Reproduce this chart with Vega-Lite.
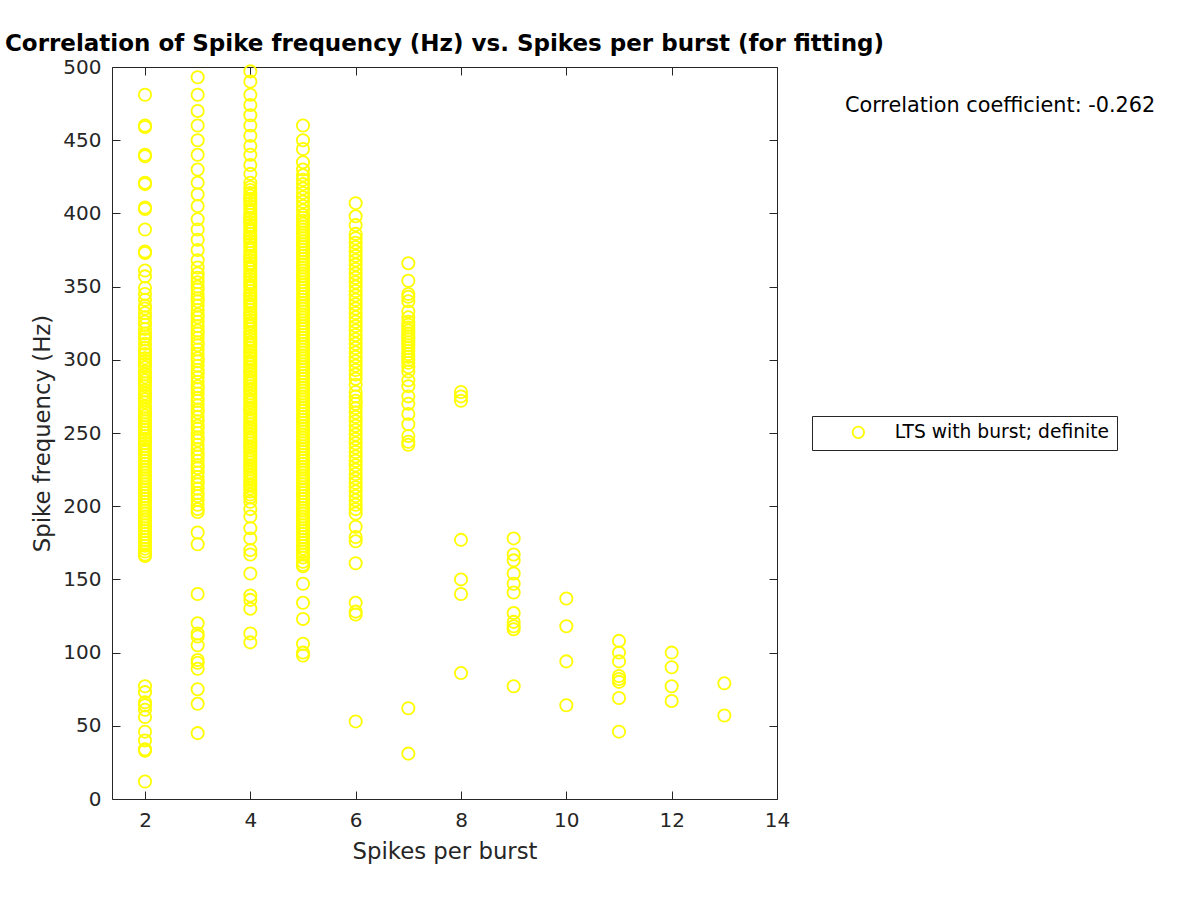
{
"$schema": "https://vega.github.io/schema/vega-lite/v6.json",
"width": 665,
"height": 732,
"autosize": {"type": "none"},
"padding": {"left": 112, "top": 67, "right": 423, "bottom": 101},
"background": "white",
"title": {"text": "Correlation of Spike frequency (Hz) vs. Spikes per burst (for fitting)", "font": "DejaVu Sans", "fontWeight": "bold", "fontSize": 23, "color": "#000000", "anchor": "middle", "frame": "group", "offset": 1},
"config": {
  "view": {"stroke": "#262626", "strokeWidth": 1},
  "font": "DejaVu Sans",
  "axis": {"domain": false, "grid": false, "labelFlush": false, "tickColor": "#262626", "tickSize": -8, "tickWidth": 1, "labelColor": "#262626", "labelFontSize": 20, "labelFont": "DejaVu Sans", "labelPadding": 19, "titleFont": "DejaVu Sans", "titleFontSize": 22.8, "titleFontWeight": "normal", "titleColor": "#262626"}
},
"data": {"values": [
{"burst":2,"freq":481},{"burst":2,"freq":460},{"burst":2,"freq":459},{"burst":2,"freq":440},{"burst":2,"freq":439},{"burst":2,"freq":421},{"burst":2,"freq":420},{"burst":2,"freq":404},{"burst":2,"freq":403},{"burst":2,"freq":389},{"burst":2,"freq":374},{"burst":2,"freq":373},{"burst":2,"freq":361},{"burst":2,"freq":357},{"burst":2,"freq":349},{"burst":2,"freq":345},{"burst":2,"freq":341},{"burst":2,"freq":337},{"burst":2,"freq":335},{"burst":2,"freq":332},{"burst":2,"freq":329},{"burst":2,"freq":326},{"burst":2,"freq":324},{"burst":2,"freq":321},{"burst":2,"freq":318},{"burst":2,"freq":316},{"burst":2,"freq":314},{"burst":2,"freq":311},{"burst":2,"freq":308},{"burst":2,"freq":306},{"burst":2,"freq":304},{"burst":2,"freq":301},{"burst":2,"freq":299},{"burst":2,"freq":297},{"burst":2,"freq":295},{"burst":2,"freq":292},{"burst":2,"freq":290},{"burst":2,"freq":288},{"burst":2,"freq":286},{"burst":2,"freq":284},{"burst":2,"freq":282},{"burst":2,"freq":279},{"burst":2,"freq":277},{"burst":2,"freq":275},{"burst":2,"freq":273},{"burst":2,"freq":271},{"burst":2,"freq":268},{"burst":2,"freq":266},{"burst":2,"freq":264},{"burst":2,"freq":262},{"burst":2,"freq":260},{"burst":2,"freq":258},{"burst":2,"freq":256},{"burst":2,"freq":254},{"burst":2,"freq":252},{"burst":2,"freq":250},{"burst":2,"freq":248},{"burst":2,"freq":246},{"burst":2,"freq":245},{"burst":2,"freq":243},{"burst":2,"freq":241},{"burst":2,"freq":239},{"burst":2,"freq":237},{"burst":2,"freq":235},{"burst":2,"freq":233},{"burst":2,"freq":231},{"burst":2,"freq":229},{"burst":2,"freq":227},{"burst":2,"freq":225},{"burst":2,"freq":223},{"burst":2,"freq":221},{"burst":2,"freq":219},{"burst":2,"freq":217},{"burst":2,"freq":215},{"burst":2,"freq":213},{"burst":2,"freq":211},{"burst":2,"freq":209},{"burst":2,"freq":207},{"burst":2,"freq":205},{"burst":2,"freq":203},{"burst":2,"freq":201},{"burst":2,"freq":199},{"burst":2,"freq":197},{"burst":2,"freq":195},{"burst":2,"freq":193},{"burst":2,"freq":191},{"burst":2,"freq":189},{"burst":2,"freq":187},{"burst":2,"freq":185},{"burst":2,"freq":183},{"burst":2,"freq":181},{"burst":2,"freq":179},{"burst":2,"freq":177},{"burst":2,"freq":175},{"burst":2,"freq":173},{"burst":2,"freq":171},{"burst":2,"freq":169},{"burst":2,"freq":167},{"burst":2,"freq":166},{"burst":2,"freq":77},{"burst":2,"freq":73},{"burst":2,"freq":66},{"burst":2,"freq":64},{"burst":2,"freq":61},{"burst":2,"freq":56},{"burst":2,"freq":46},{"burst":2,"freq":40},{"burst":2,"freq":34},{"burst":2,"freq":33},{"burst":2,"freq":12},
{"burst":3,"freq":493},{"burst":3,"freq":481},{"burst":3,"freq":470},{"burst":3,"freq":460},{"burst":3,"freq":450},{"burst":3,"freq":440},{"burst":3,"freq":430},{"burst":3,"freq":421},{"burst":3,"freq":413},{"burst":3,"freq":405},{"burst":3,"freq":396},{"burst":3,"freq":389},{"burst":3,"freq":382},{"burst":3,"freq":375},{"burst":3,"freq":368},{"burst":3,"freq":363},{"burst":3,"freq":359},{"burst":3,"freq":356},{"burst":3,"freq":353},{"burst":3,"freq":350},{"burst":3,"freq":348},{"burst":3,"freq":345},{"burst":3,"freq":342},{"burst":3,"freq":340},{"burst":3,"freq":337},{"burst":3,"freq":334},{"burst":3,"freq":331},{"burst":3,"freq":329},{"burst":3,"freq":326},{"burst":3,"freq":323},{"burst":3,"freq":320},{"burst":3,"freq":318},{"burst":3,"freq":315},{"burst":3,"freq":312},{"burst":3,"freq":310},{"burst":3,"freq":307},{"burst":3,"freq":304},{"burst":3,"freq":301},{"burst":3,"freq":299},{"burst":3,"freq":296},{"burst":3,"freq":293},{"burst":3,"freq":291},{"burst":3,"freq":288},{"burst":3,"freq":285},{"burst":3,"freq":282},{"burst":3,"freq":280},{"burst":3,"freq":277},{"burst":3,"freq":274},{"burst":3,"freq":272},{"burst":3,"freq":269},{"burst":3,"freq":266},{"burst":3,"freq":264},{"burst":3,"freq":261},{"burst":3,"freq":258},{"burst":3,"freq":255},{"burst":3,"freq":253},{"burst":3,"freq":250},{"burst":3,"freq":247},{"burst":3,"freq":245},{"burst":3,"freq":242},{"burst":3,"freq":239},{"burst":3,"freq":236},{"burst":3,"freq":234},{"burst":3,"freq":231},{"burst":3,"freq":228},{"burst":3,"freq":226},{"burst":3,"freq":223},{"burst":3,"freq":220},{"burst":3,"freq":217},{"burst":3,"freq":215},{"burst":3,"freq":212},{"burst":3,"freq":209},{"burst":3,"freq":207},{"burst":3,"freq":204},{"burst":3,"freq":201},{"burst":3,"freq":198},{"burst":3,"freq":196},{"burst":3,"freq":182},{"burst":3,"freq":174},{"burst":3,"freq":140},{"burst":3,"freq":120},{"burst":3,"freq":113},{"burst":3,"freq":111},{"burst":3,"freq":105},{"burst":3,"freq":95},{"burst":3,"freq":93},{"burst":3,"freq":89},{"burst":3,"freq":75},{"burst":3,"freq":65},{"burst":3,"freq":45},
{"burst":4,"freq":497},{"burst":4,"freq":490},{"burst":4,"freq":481},{"burst":4,"freq":474},{"burst":4,"freq":467},{"burst":4,"freq":460},{"burst":4,"freq":453},{"burst":4,"freq":446},{"burst":4,"freq":440},{"burst":4,"freq":433},{"burst":4,"freq":427},{"burst":4,"freq":421},{"burst":4,"freq":418},{"burst":4,"freq":416},{"burst":4,"freq":414},{"burst":4,"freq":412},{"burst":4,"freq":410},{"burst":4,"freq":409},{"burst":4,"freq":407},{"burst":4,"freq":405},{"burst":4,"freq":403},{"burst":4,"freq":401},{"burst":4,"freq":399},{"burst":4,"freq":397},{"burst":4,"freq":396},{"burst":4,"freq":394},{"burst":4,"freq":392},{"burst":4,"freq":390},{"burst":4,"freq":388},{"burst":4,"freq":386},{"burst":4,"freq":384},{"burst":4,"freq":383},{"burst":4,"freq":381},{"burst":4,"freq":379},{"burst":4,"freq":377},{"burst":4,"freq":375},{"burst":4,"freq":373},{"burst":4,"freq":371},{"burst":4,"freq":370},{"burst":4,"freq":368},{"burst":4,"freq":366},{"burst":4,"freq":364},{"burst":4,"freq":362},{"burst":4,"freq":360},{"burst":4,"freq":358},{"burst":4,"freq":357},{"burst":4,"freq":355},{"burst":4,"freq":353},{"burst":4,"freq":351},{"burst":4,"freq":349},{"burst":4,"freq":347},{"burst":4,"freq":345},{"burst":4,"freq":344},{"burst":4,"freq":342},{"burst":4,"freq":340},{"burst":4,"freq":338},{"burst":4,"freq":336},{"burst":4,"freq":334},{"burst":4,"freq":332},{"burst":4,"freq":331},{"burst":4,"freq":329},{"burst":4,"freq":327},{"burst":4,"freq":325},{"burst":4,"freq":323},{"burst":4,"freq":321},{"burst":4,"freq":319},{"burst":4,"freq":318},{"burst":4,"freq":316},{"burst":4,"freq":314},{"burst":4,"freq":312},{"burst":4,"freq":310},{"burst":4,"freq":308},{"burst":4,"freq":306},{"burst":4,"freq":305},{"burst":4,"freq":303},{"burst":4,"freq":301},{"burst":4,"freq":299},{"burst":4,"freq":297},{"burst":4,"freq":295},{"burst":4,"freq":293},{"burst":4,"freq":292},{"burst":4,"freq":290},{"burst":4,"freq":288},{"burst":4,"freq":286},{"burst":4,"freq":284},{"burst":4,"freq":282},{"burst":4,"freq":280},{"burst":4,"freq":279},{"burst":4,"freq":277},{"burst":4,"freq":275},{"burst":4,"freq":273},{"burst":4,"freq":271},{"burst":4,"freq":269},{"burst":4,"freq":267},{"burst":4,"freq":266},{"burst":4,"freq":264},{"burst":4,"freq":262},{"burst":4,"freq":260},{"burst":4,"freq":258},{"burst":4,"freq":256},{"burst":4,"freq":254},{"burst":4,"freq":253},{"burst":4,"freq":251},{"burst":4,"freq":249},{"burst":4,"freq":247},{"burst":4,"freq":245},{"burst":4,"freq":243},{"burst":4,"freq":241},{"burst":4,"freq":240},{"burst":4,"freq":238},{"burst":4,"freq":236},{"burst":4,"freq":234},{"burst":4,"freq":232},{"burst":4,"freq":230},{"burst":4,"freq":228},{"burst":4,"freq":227},{"burst":4,"freq":225},{"burst":4,"freq":223},{"burst":4,"freq":221},{"burst":4,"freq":219},{"burst":4,"freq":217},{"burst":4,"freq":215},{"burst":4,"freq":214},{"burst":4,"freq":212},{"burst":4,"freq":210},{"burst":4,"freq":208},{"burst":4,"freq":206},{"burst":4,"freq":203},{"burst":4,"freq":198},{"burst":4,"freq":193},{"burst":4,"freq":185},{"burst":4,"freq":178},{"burst":4,"freq":170},{"burst":4,"freq":167},{"burst":4,"freq":154},{"burst":4,"freq":139},{"burst":4,"freq":136},{"burst":4,"freq":130},{"burst":4,"freq":113},{"burst":4,"freq":107},
{"burst":5,"freq":460},{"burst":5,"freq":450},{"burst":5,"freq":444},{"burst":5,"freq":435},{"burst":5,"freq":430},{"burst":5,"freq":426},{"burst":5,"freq":423},{"burst":5,"freq":420},{"burst":5,"freq":417},{"burst":5,"freq":414},{"burst":5,"freq":411},{"burst":5,"freq":408},{"burst":5,"freq":405},{"burst":5,"freq":402},{"burst":5,"freq":399},{"burst":5,"freq":397},{"burst":5,"freq":395},{"burst":5,"freq":393},{"burst":5,"freq":391},{"burst":5,"freq":389},{"burst":5,"freq":387},{"burst":5,"freq":385},{"burst":5,"freq":383},{"burst":5,"freq":381},{"burst":5,"freq":379},{"burst":5,"freq":377},{"burst":5,"freq":375},{"burst":5,"freq":373},{"burst":5,"freq":371},{"burst":5,"freq":369},{"burst":5,"freq":367},{"burst":5,"freq":365},{"burst":5,"freq":363},{"burst":5,"freq":361},{"burst":5,"freq":359},{"burst":5,"freq":357},{"burst":5,"freq":355},{"burst":5,"freq":353},{"burst":5,"freq":351},{"burst":5,"freq":349},{"burst":5,"freq":347},{"burst":5,"freq":345},{"burst":5,"freq":343},{"burst":5,"freq":341},{"burst":5,"freq":339},{"burst":5,"freq":337},{"burst":5,"freq":335},{"burst":5,"freq":333},{"burst":5,"freq":331},{"burst":5,"freq":329},{"burst":5,"freq":327},{"burst":5,"freq":325},{"burst":5,"freq":323},{"burst":5,"freq":321},{"burst":5,"freq":319},{"burst":5,"freq":317},{"burst":5,"freq":315},{"burst":5,"freq":313},{"burst":5,"freq":311},{"burst":5,"freq":309},{"burst":5,"freq":307},{"burst":5,"freq":305},{"burst":5,"freq":303},{"burst":5,"freq":301},{"burst":5,"freq":299},{"burst":5,"freq":297},{"burst":5,"freq":295},{"burst":5,"freq":293},{"burst":5,"freq":291},{"burst":5,"freq":289},{"burst":5,"freq":287},{"burst":5,"freq":285},{"burst":5,"freq":283},{"burst":5,"freq":281},{"burst":5,"freq":279},{"burst":5,"freq":277},{"burst":5,"freq":275},{"burst":5,"freq":273},{"burst":5,"freq":271},{"burst":5,"freq":269},{"burst":5,"freq":267},{"burst":5,"freq":265},{"burst":5,"freq":263},{"burst":5,"freq":261},{"burst":5,"freq":259},{"burst":5,"freq":257},{"burst":5,"freq":255},{"burst":5,"freq":253},{"burst":5,"freq":251},{"burst":5,"freq":249},{"burst":5,"freq":247},{"burst":5,"freq":245},{"burst":5,"freq":243},{"burst":5,"freq":241},{"burst":5,"freq":239},{"burst":5,"freq":237},{"burst":5,"freq":235},{"burst":5,"freq":233},{"burst":5,"freq":231},{"burst":5,"freq":229},{"burst":5,"freq":227},{"burst":5,"freq":225},{"burst":5,"freq":223},{"burst":5,"freq":221},{"burst":5,"freq":219},{"burst":5,"freq":217},{"burst":5,"freq":215},{"burst":5,"freq":213},{"burst":5,"freq":211},{"burst":5,"freq":209},{"burst":5,"freq":207},{"burst":5,"freq":205},{"burst":5,"freq":203},{"burst":5,"freq":201},{"burst":5,"freq":199},{"burst":5,"freq":197},{"burst":5,"freq":195},{"burst":5,"freq":193},{"burst":5,"freq":191},{"burst":5,"freq":189},{"burst":5,"freq":187},{"burst":5,"freq":185},{"burst":5,"freq":183},{"burst":5,"freq":181},{"burst":5,"freq":179},{"burst":5,"freq":177},{"burst":5,"freq":175},{"burst":5,"freq":173},{"burst":5,"freq":171},{"burst":5,"freq":169},{"burst":5,"freq":167},{"burst":5,"freq":165},{"burst":5,"freq":162},{"burst":5,"freq":160},{"burst":5,"freq":159},{"burst":5,"freq":147},{"burst":5,"freq":134},{"burst":5,"freq":123},{"burst":5,"freq":106},{"burst":5,"freq":100},{"burst":5,"freq":98},
{"burst":6,"freq":407},{"burst":6,"freq":398},{"burst":6,"freq":392},{"burst":6,"freq":386},{"burst":6,"freq":383},{"burst":6,"freq":380},{"burst":6,"freq":377},{"burst":6,"freq":374},{"burst":6,"freq":371},{"burst":6,"freq":368},{"burst":6,"freq":365},{"burst":6,"freq":362},{"burst":6,"freq":359},{"burst":6,"freq":356},{"burst":6,"freq":353},{"burst":6,"freq":350},{"burst":6,"freq":347},{"burst":6,"freq":344},{"burst":6,"freq":341},{"burst":6,"freq":338},{"burst":6,"freq":335},{"burst":6,"freq":332},{"burst":6,"freq":329},{"burst":6,"freq":326},{"burst":6,"freq":323},{"burst":6,"freq":320},{"burst":6,"freq":317},{"burst":6,"freq":314},{"burst":6,"freq":311},{"burst":6,"freq":308},{"burst":6,"freq":305},{"burst":6,"freq":302},{"burst":6,"freq":299},{"burst":6,"freq":296},{"burst":6,"freq":293},{"burst":6,"freq":290},{"burst":6,"freq":287},{"burst":6,"freq":283},{"burst":6,"freq":278},{"burst":6,"freq":275},{"burst":6,"freq":272},{"burst":6,"freq":270},{"burst":6,"freq":267},{"burst":6,"freq":264},{"burst":6,"freq":261},{"burst":6,"freq":258},{"burst":6,"freq":255},{"burst":6,"freq":252},{"burst":6,"freq":249},{"burst":6,"freq":246},{"burst":6,"freq":243},{"burst":6,"freq":240},{"burst":6,"freq":237},{"burst":6,"freq":234},{"burst":6,"freq":231},{"burst":6,"freq":228},{"burst":6,"freq":225},{"burst":6,"freq":222},{"burst":6,"freq":219},{"burst":6,"freq":216},{"burst":6,"freq":213},{"burst":6,"freq":210},{"burst":6,"freq":207},{"burst":6,"freq":204},{"burst":6,"freq":201},{"burst":6,"freq":198},{"burst":6,"freq":195},{"burst":6,"freq":186},{"burst":6,"freq":179},{"burst":6,"freq":176},{"burst":6,"freq":161},{"burst":6,"freq":134},{"burst":6,"freq":128},{"burst":6,"freq":126},{"burst":6,"freq":53},
{"burst":7,"freq":366},{"burst":7,"freq":354},{"burst":7,"freq":345},{"burst":7,"freq":343},{"burst":7,"freq":340},{"burst":7,"freq":333},{"burst":7,"freq":329},{"burst":7,"freq":326},{"burst":7,"freq":324},{"burst":7,"freq":322},{"burst":7,"freq":320},{"burst":7,"freq":318},{"burst":7,"freq":316},{"burst":7,"freq":314},{"burst":7,"freq":312},{"burst":7,"freq":310},{"burst":7,"freq":308},{"burst":7,"freq":306},{"burst":7,"freq":304},{"burst":7,"freq":302},{"burst":7,"freq":300},{"burst":7,"freq":298},{"burst":7,"freq":295},{"burst":7,"freq":292},{"burst":7,"freq":286},{"burst":7,"freq":282},{"burst":7,"freq":275},{"burst":7,"freq":270},{"burst":7,"freq":263},{"burst":7,"freq":256},{"burst":7,"freq":248},{"burst":7,"freq":244},{"burst":7,"freq":242},{"burst":7,"freq":62},{"burst":7,"freq":31},
{"burst":8,"freq":278},{"burst":8,"freq":275},{"burst":8,"freq":272},{"burst":8,"freq":177},{"burst":8,"freq":150},{"burst":8,"freq":140},{"burst":8,"freq":86},
{"burst":9,"freq":178},{"burst":9,"freq":167},{"burst":9,"freq":163},{"burst":9,"freq":154},{"burst":9,"freq":147},{"burst":9,"freq":141},{"burst":9,"freq":127},{"burst":9,"freq":121},{"burst":9,"freq":118},{"burst":9,"freq":116},{"burst":9,"freq":77},
{"burst":10,"freq":137},{"burst":10,"freq":118},{"burst":10,"freq":94},{"burst":10,"freq":64},
{"burst":11,"freq":108},{"burst":11,"freq":100},{"burst":11,"freq":94},{"burst":11,"freq":84},{"burst":11,"freq":82},{"burst":11,"freq":80},{"burst":11,"freq":69},{"burst":11,"freq":46},
{"burst":12,"freq":100},{"burst":12,"freq":90},{"burst":12,"freq":77},{"burst":12,"freq":67},
{"burst":13,"freq":79},{"burst":13,"freq":57}
]},
"layer": [
  {
    "mark": {"type": "point", "shape": "circle", "filled": false, "size": 150, "strokeWidth": 1.8, "opacity": 1},
    "encoding": {
      "x": {"field": "burst", "type": "quantitative", "scale": {"domain": [1.3735, 14], "nice": false, "zero": false}, "axis": {"orient": "bottom", "values": [2, 4, 6, 8, 10, 12, 14], "title": "Spikes per burst", "titlePadding": 10}},
      "y": {"field": "freq", "type": "quantitative", "scale": {"domain": [0, 500], "nice": false, "zero": false}, "axis": {"orient": "left", "values": [0, 50, 100, 150, 200, 250, 300, 350, 400, 450, 500], "title": "Spike frequency (Hz)", "titlePadding": 8}},
      "color": {"datum": "LTS with burst; definite", "type": "nominal", "scale": {"range": ["#ffff00"]}, "legend": {"orient": "none", "legendX": 700, "legendY": 349, "title": null, "strokeColor": "#262626", "fillColor": "white", "padding": 7, "labelFontSize": 18.7, "labelColor": "#000000", "labelFont": "DejaVu Sans", "labelLimit": 0, "symbolSize": 130, "symbolStrokeWidth": 1.8, "symbolType": "circle", "symbolOffset": 30, "labelOffset": 27}}
    }
  },
  {
    "mark": {"type": "point", "opacity": 0},
    "encoding": {
      "x": {"field": "burst", "type": "quantitative", "scale": {"domain": [1.3735, 14], "nice": false, "zero": false}, "axis": {"orient": "top", "values": [2, 4, 6, 8, 10, 12, 14], "labels": false, "title": null}},
      "y": {"field": "freq", "type": "quantitative", "scale": {"domain": [0, 500], "nice": false, "zero": false}, "axis": {"orient": "right", "values": [0, 50, 100, 150, 200, 250, 300, 350, 400, 450, 500], "labels": false, "title": null}}
    }
  },
  {
    "data": {"values": [{}]},
    "mark": {"type": "text", "align": "left", "baseline": "alphabetic", "fontSize": 20.8, "font": "DejaVu Sans", "color": "#000000"},
    "encoding": {
      "x": {"datum": 15.29, "type": "quantitative", "scale": {"domain": [1.3735, 14], "nice": false, "zero": false}, "axis": null},
      "y": {"datum": 469.5, "type": "quantitative", "scale": {"domain": [0, 500], "nice": false, "zero": false}, "axis": null},
      "text": {"value": "Correlation coefficient: -0.262"}
    }
  }
],
"resolve": {"axis": {"x": "independent", "y": "independent"}}
}
